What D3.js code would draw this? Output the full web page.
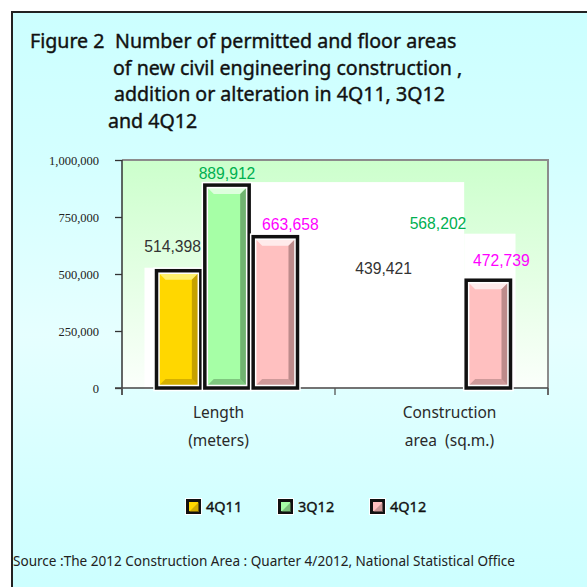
<!DOCTYPE html>
<html>
<head>
<meta charset="utf-8">
<script src="https://cdn.jsdelivr.net/npm/d3@7"></script>
<style>
body { margin: 0; background: #fff; }
text { white-space: pre; }
</style>
</head>
<body>
<div id="chart"></div>
<script>
// values
var categories = ["Length", "Construction area"];
var categoryLines = [["Length", "(meters)"], ["Construction", "area  (sq.m.)"]];
var series = ["4Q11", "3Q12", "4Q12"];
var q4_11 = [514398, 439421];
var q3_12 = [889912, 568202];
var q4_12 = [663658, 472739];
// the original only shows the 4Q12 bar for construction area
var visible = [[true, false], [true, false], [true, true]];
var yTicks = [0, 250000, 500000, 750000, 1000000];
var titleHead = "Figure 2";
var titleLines = ["Number of permitted and floor areas",
    "of new civil engineering construction ,",
    "addition or alteration in 4Q11, 3Q12",
    "and 4Q12"];
var source = "Source :The 2012 Construction Area : Quarter 4/2012, National Statistical Office";

var values = [q4_11, q3_12, q4_12];

var width = 587, height = 587;
var plot = {left: 122, right: 548, top: 160, bottom: 388};

var fills = ["#ffd700", "#a6ffa6", "#ffc0c0"];
var lights = ["#fff47a", "#e4ffe4", "#fff0f0"];
var darks = ["#b38f00", "#5e9a5e", "#a77a7a"];
var labelColors = ["#333333", "#00b050", "#ff00ff"];
// small nudges so labels sit where the original put them
var labelDx = [[-6, -8], [0, -2], [15, 13]];
var labelDy = [[24, 19], [12, 35], [12, 20]];

var svg = d3.select("#chart")
    .append("svg")
    .attr("width", width)
    .attr("height", height);

var defs = svg.append("defs");
var bg = defs.append("linearGradient").attr("id", "bg")
    .attr("x1", 0).attr("y1", 0).attr("x2", 0).attr("y2", 1);
bg.append("stop").attr("offset", "0%").attr("stop-color", "#ccffff");
bg.append("stop").attr("offset", "25%").attr("stop-color", "#d4ffff");
bg.append("stop").attr("offset", "55%").attr("stop-color", "#e6ffff");
bg.append("stop").attr("offset", "85%").attr("stop-color", "#d2ffff");
bg.append("stop").attr("offset", "100%").attr("stop-color", "#ccffff");

var pg = defs.append("linearGradient").attr("id", "pg")
    .attr("x1", 0).attr("y1", 0).attr("x2", 0).attr("y2", 1);
pg.append("stop").attr("offset", "0%").attr("stop-color", "#ccffcc");
pg.append("stop").attr("offset", "100%").attr("stop-color", "#fbfffb");

// page frame
svg.append("rect")
    .attr("x", 12).attr("y", 12)
    .attr("width", width).attr("height", height)
    .attr("fill", "url(#bg)")
    .attr("stroke", "#222")
    .attr("stroke-width", 2);

// title
var title = svg.append("text")
    .attr("font-family", "'Noto Sans', sans-serif")
    .attr("font-size", 19.6)
    .attr("fill", "#111")
    .attr("stroke", "#111")
    .attr("stroke-width", 0.4);
title.append("tspan").attr("x", 30).attr("y", 48).text(titleHead);
var titleX = [115, 113, 114, 108];
titleLines.forEach(function(t, i) {
    title.append("tspan")
        .attr("x", titleX[i])
        .attr("y", 48 + i * 26.7)
        .text(t);
});

var y = d3.scaleLinear().domain([0, 1000000]).range([plot.bottom, plot.top]);
var x0 = d3.scaleBand().domain(categories).range([plot.left, plot.right]);
var bw = x0.bandwidth();
var x1 = d3.scaleBand().domain(series).range([bw / 2 - 74, bw / 2 + 71]);
var barW = x1.bandwidth();

// plot area
svg.append("rect")
    .attr("x", plot.left).attr("y", plot.top)
    .attr("width", plot.right - plot.left)
    .attr("height", plot.bottom - plot.top)
    .attr("fill", "url(#pg)");

// white backing left behind by the original rendering, follows the Length values
var c0 = categories[0], c1 = categories[1];
var steps = [
    [x0(c0) + x1(series[0]) - 10, x0(c0) + x1(series[1]), q4_11[0]],
    [x0(c0) + x1(series[1]), x0(c1) + x1(series[1]) + barW, q3_12[0]],
    [x0(c1) + x1(series[1]) + barW, x0(c1) + x1(series[2]) + barW + 3, q4_12[0]]
];
svg.selectAll(".backing")
    .data(steps)
    .enter()
    .append("rect")
    .attr("class", "backing")
    .attr("x", function(d) { return d[0]; })
    .attr("y", function(d) { return y(d[2]) - 3; })
    .attr("width", function(d) { return d[1] - d[0]; })
    .attr("height", function(d) { return y(0) - y(d[2]) + 4; })
    .attr("fill", "#fff");

// plot border (top, right)
svg.append("path")
    .attr("d", "M" + plot.left + "," + plot.top + "H" + plot.right + "V" + (plot.bottom + 7))
    .attr("fill", "none")
    .attr("stroke", "#8c8c8c")
    .attr("stroke-width", 2);

// axes
var yAxis = d3.axisLeft(y)
    .tickValues(yTicks)
    .tickSize(7)
    .tickFormat(d3.format(",d"));
var gy = svg.append("g")
    .attr("transform", "translate(" + plot.left + ",0)")
    .call(yAxis);
gy.select(".domain").attr("stroke", "#333").attr("stroke-width", 1.5)
    .attr("d", "M0," + plot.top + "V" + (plot.bottom + 7));
gy.selectAll(".tick line").attr("stroke", "#333").attr("stroke-width", 1.3);
gy.selectAll(".tick text")
    .attr("x", -23)
    .attr("font-family", "'Liberation Serif', serif")
    .attr("font-size", 12.5)
    .attr("fill", "#222");

svg.append("line")
    .attr("x1", plot.left - 7).attr("x2", plot.right)
    .attr("y1", y(0)).attr("y2", y(0))
    .attr("stroke", "#444").attr("stroke-width", 1.5);
svg.selectAll(".xtick")
    .data([plot.left, x0(c1), plot.right])
    .enter()
    .append("line")
    .attr("x1", function(d) { return d; })
    .attr("x2", function(d) { return d; })
    .attr("y1", y(0)).attr("y2", y(0) + 7)
    .attr("stroke", "#555").attr("stroke-width", 1.3);

// bars
function bevel(g, x, top, w, bottom, s) {
    var b = Math.min(9, (bottom - top) / 3);
    g.append("rect").attr("x", x).attr("y", top).attr("width", w).attr("height", bottom - top)
        .attr("fill", fills[s]);
    g.append("path")
        .attr("d", "M" + x + "," + top + "H" + (x + w) + "L" + (x + w - b) + "," + (top + b) + "H" + (x + b) + "Z")
        .attr("fill", lights[s]).attr("opacity", 0.9);
    g.append("path")
        .attr("d", "M" + (x + w) + "," + top + "V" + bottom + "L" + (x + w - b) + "," + (bottom - b) + "V" + (top + b) + "Z")
        .attr("fill", darks[s]).attr("opacity", 0.75);
    g.append("path")
        .attr("d", "M" + x + "," + bottom + "H" + (x + w) + "L" + (x + w - b) + "," + (bottom - b) + "H" + (x + b) + "Z")
        .attr("fill", darks[s]).attr("opacity", 0.55);
    g.append("rect").attr("x", x).attr("y", top).attr("width", w).attr("height", bottom - top)
        .attr("fill", "none").attr("stroke", "#fff").attr("stroke-width", 6.5);
    g.append("rect").attr("x", x).attr("y", top).attr("width", w).attr("height", bottom - top)
        .attr("fill", "none").attr("stroke", "#111").attr("stroke-width", 3.5);
}

var bars = svg.append("g");
series.forEach(function(s, si) {
    categories.forEach(function(c, ci) {
        if (!visible[si][ci]) return;
        var g = bars.append("g");
        bevel(g, x0(c) + x1(s) + 2, y(values[si][ci]), barW - 4, y(0), si);
    });
});

// value labels
series.forEach(function(s, si) {
    categories.forEach(function(c, ci) {
        svg.append("text")
            .attr("x", x0(c) + x1(s) + barW / 2 + labelDx[si][ci])
            .attr("y", y(values[si][ci]) - labelDy[si][ci])
            .attr("dy", "0.35em")
            .attr("text-anchor", "middle")
            .attr("font-family", "'Liberation Sans', Arial, sans-serif")
            .attr("font-size", 15.7)
            .attr("fill", labelColors[si])
            .text(d3.format(",d")(values[si][ci]));
    });
});

// category labels
categoryLines.forEach(function(lines, ci) {
    var t = svg.append("text")
        .attr("text-anchor", "middle")
        .attr("font-family", "'Noto Sans', sans-serif")
        .attr("font-size", 15.5)
        .attr("fill", "#2a2a2a");
    lines.forEach(function(l, li) {
        t.append("tspan")
            .attr("x", x0(categories[ci]) + bw / 2 + (ci ? 8 : -10))
            .attr("y", 418 + li * 28)
            .text(l);
    });
});

// legend
var legend = svg.selectAll(".legend")
    .data(series)
    .enter()
    .append("g")
    .attr("class", "legend")
    .attr("transform", function(d, i) { return "translate(" + [186, 278, 370][i] + ",499)"; });
legend.append("rect")
    .attr("x", -1).attr("y", -1).attr("width", 17).attr("height", 17)
    .attr("fill", "#fff");
legend.append("rect")
    .attr("x", 1.5).attr("y", 1.5).attr("width", 12).attr("height", 12)
    .attr("fill", function(d, i) { return fills[i]; })
    .attr("stroke", "#111").attr("stroke-width", 3);
legend.append("path")
    .attr("d", "M3,13L13,3V13Z")
    .attr("fill", function(d, i) { return darks[i]; })
    .attr("opacity", 0.6);
legend.append("text")
    .attr("x", 20).attr("y", 8)
    .attr("dy", "0.35em")
    .attr("font-family", "'Noto Sans', sans-serif")
    .attr("font-size", 14.5)
    .attr("fill", "#111")
    .attr("stroke", "#111")
    .attr("stroke-width", 0.35)
    .text(function(d) { return d; });

// source
svg.append("text")
    .attr("x", 13).attr("y", 566)
    .attr("font-family", "'Liberation Sans Narrow', 'Noto Sans', sans-serif")
    .attr("font-size", 15)
    .attr("textLength", 502)
    .attr("lengthAdjust", "spacingAndGlyphs")
    .attr("fill", "#222")
    .text(source);
</script>
</body>
</html>
